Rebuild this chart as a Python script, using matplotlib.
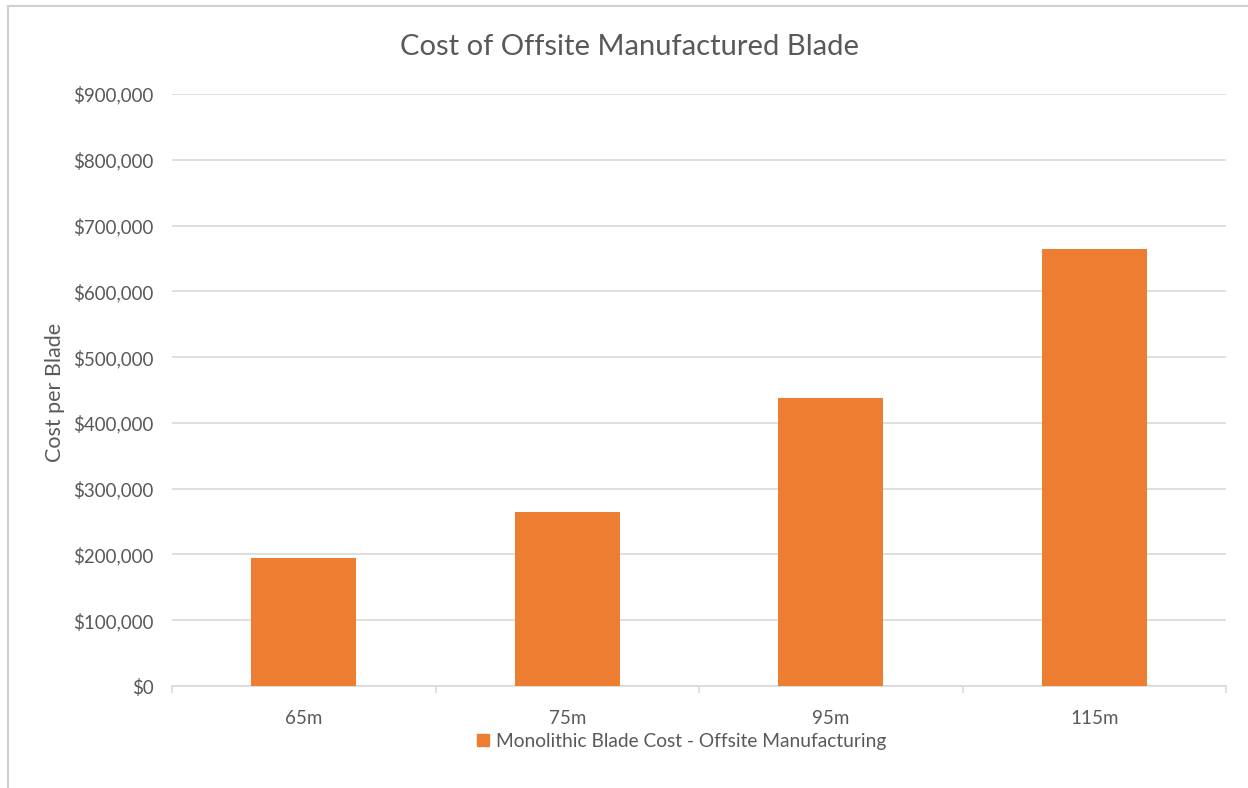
import matplotlib
matplotlib.use("Agg")
import matplotlib.pyplot as plt
from matplotlib.ticker import FuncFormatter, FixedLocator
from matplotlib.lines import Line2D

categories = ["65m", "75m", "95m", "115m"]
costs = [195000, 264000, 438000, 664000]
series_name = "Monolithic Blade Cost - Offsite Manufacturing"
title = "Cost of Offsite Manufactured Blade"
ylabel = "Cost per Blade"

plt.rcParams['font.family'] = ['Lato', 'DejaVu Sans']

W, H = 1248, 788
fig = plt.figure(figsize=(W/100, H/100), dpi=100)
ax = fig.add_axes([172/W, 1-686/H, (1226-172)/W, (686-94)/H])

x = list(range(len(categories)))
ax.bar(x, costs, width=0.4, color="#ED7D31", zorder=3, label=series_name)

ax.set_xlim(-0.5, len(categories)-0.5)
ax.set_ylim(0, 900000)
ax.set_yticks(range(0, 900001, 100000))
ax.yaxis.set_major_formatter(FuncFormatter(lambda v, p: f"${int(v):,}"))
ax.grid(axis="y", color="#d9d9d9", linewidth=1.2, zorder=0)

ax.set_xticks(x)
ax.set_xticklabels(categories)
ax.xaxis.set_minor_locator(FixedLocator([i - 0.5 for i in range(len(categories)+1)]))
ax.tick_params(axis="x", which="major", length=0, pad=17, labelsize=13.5, labelcolor="#595959")
ax.tick_params(axis="x", which="minor", length=5, color="#d9d9d9", width=1.2)
ax.tick_params(axis="y", length=0, pad=13, labelsize=13.5, labelcolor="#595959")

for s in ["top", "right", "left"]:
    ax.spines[s].set_visible(False)
ax.spines["bottom"].set_color("#d9d9d9")
ax.spines["bottom"].set_linewidth(1.2)

fig.text(629/W, 1-47/H, title, ha="center", va="center", fontsize=21, color="#595959")
fig.text(55/W, 1-392/H, ylabel, ha="center", va="center", rotation=90, fontsize=15.5, color="#595959")

handle = Line2D([], [], marker="s", linestyle="none", markersize=9, color="#ED7D31")
fig.legend([handle], [series_name], loc="center", bbox_to_anchor=(680/W, 1-741/H),
           frameon=False, fontsize=13.8, labelcolor="#595959", handletextpad=0.2,
           handlelength=1.0)

# Screenshot border lines
fig.add_artist(Line2D([8/W, 8/W], [0, 1-6/H], color="#d0d0d0", linewidth=1.5, transform=fig.transFigure))
fig.add_artist(Line2D([8/W, 1], [1-6/H, 1-6/H], color="#d0d0d0", linewidth=1.5, transform=fig.transFigure))

fig.savefig("out.png", dpi=100)
